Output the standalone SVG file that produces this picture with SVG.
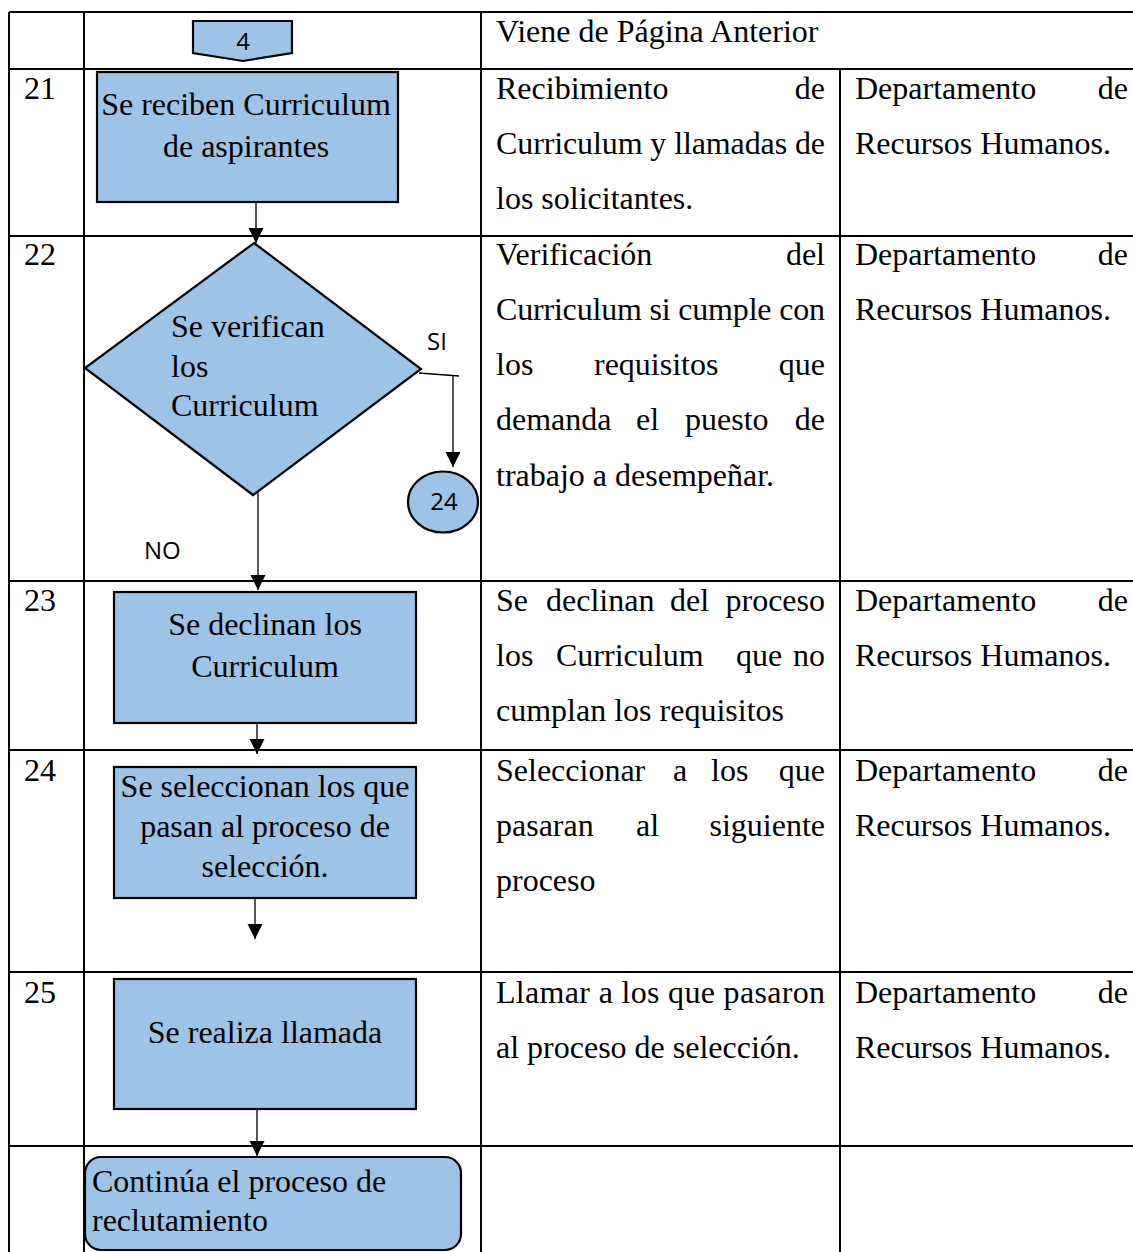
<svg xmlns="http://www.w3.org/2000/svg" width="1133" height="1252" viewBox="0 0 1133 1252">
  <defs>
    <marker id="arrow" markerUnits="userSpaceOnUse" markerWidth="16" markerHeight="16" refX="15" refY="7.5" orient="auto">
      <path d="M0,0 L15,7.5 L0,15 Z" fill="#000"/>
    </marker>
    <style>
      .grid { stroke: #000; stroke-width: 2; fill: none; }
      .shape { fill: #9DC3E6; stroke: #000; stroke-width: 2.2; }
      .conn { stroke: #000; stroke-width: 1.3; fill: none; }
      .serif { font-family: "Liberation Serif", "Times New Roman", serif; font-size: 32px; fill: #000; }
      .sans { font-family: "Open Sans", "Noto Sans", sans-serif; font-size: 24px; fill: #000; }
      .mid { text-anchor: middle; }
      .end { text-anchor: end; }
    </style>
  </defs>

  <rect width="1133" height="1252" fill="#fff"/>

  <!-- table grid -->
  <g id="table">
    <line class="grid" x1="9" y1="12" x2="1140" y2="12"/>
    <line class="grid" x1="9" y1="69" x2="1140" y2="69"/>
    <line class="grid" x1="9" y1="236" x2="1140" y2="236"/>
    <line class="grid" x1="9" y1="581" x2="1140" y2="581"/>
    <line class="grid" x1="9" y1="750" x2="1140" y2="750"/>
    <line class="grid" x1="9" y1="972" x2="1140" y2="972"/>
    <line class="grid" x1="9" y1="1146" x2="1140" y2="1146"/>
    <line class="grid" x1="9" y1="12" x2="9" y2="1260"/>
    <line class="grid" x1="84" y1="12" x2="84" y2="1260"/>
    <line class="grid" x1="481" y1="12" x2="481" y2="1260"/>
    <line class="grid" x1="840" y1="69" x2="840" y2="1260"/>
  </g>

  <!-- step numbers -->
  <g id="numbers" class="serif">
    <text x="24" y="99">21</text>
    <text x="24" y="265">22</text>
    <text x="24" y="611">23</text>
    <text x="24" y="781">24</text>
    <text x="24" y="1003">25</text>
  </g>

  <!-- descriptions -->
  <g id="descriptions" class="serif">
    <text x="496" y="42">Viene de Página Anterior</text>

    <text x="496" y="99">Recibimiento</text>
    <text x="825" y="99" class="end">de</text>
    <text x="496" y="154" textLength="329" lengthAdjust="spacing">Curriculum y llamadas de</text>
    <text x="496" y="209">los solicitantes.</text>

    <text x="496" y="265">Verificación</text>
    <text x="825" y="265" class="end">del</text>
    <text x="496" y="320" textLength="329" lengthAdjust="spacing">Curriculum si cumple con</text>
    <text x="496" y="375">los</text>
    <text x="594" y="375">requisitos</text>
    <text x="825" y="375" class="end">que</text>
    <text x="496" y="430">demanda</text>
    <text x="636" y="430">el</text>
    <text x="685" y="430">puesto</text>
    <text x="825" y="430" class="end">de</text>
    <text x="496" y="486">trabajo a desempeñar.</text>

    <text x="496" y="611">Se</text>
    <text x="546" y="611">declinan</text>
    <text x="670" y="611">del</text>
    <text x="825" y="611" class="end">proceso</text>
    <text x="496" y="666">los</text>
    <text x="556" y="666">Curriculum</text>
    <text x="736" y="666">que</text>
    <text x="825" y="666" class="end">no</text>
    <text x="496" y="721">cumplan los requisitos</text>

    <text x="496" y="781">Seleccionar</text>
    <text x="673" y="781">a</text>
    <text x="711" y="781">los</text>
    <text x="825" y="781" class="end">que</text>
    <text x="496" y="836">pasaran</text>
    <text x="636" y="836">al</text>
    <text x="825" y="836" class="end">siguiente</text>
    <text x="496" y="891">proceso</text>

    <text x="496" y="1003" textLength="329" lengthAdjust="spacing">Llamar a los que pasaron</text>
    <text x="496" y="1058">al proceso de selección.</text>
  </g>

  <!-- responsible -->
  <g id="responsible" class="serif">
    <text x="855" y="99">Departamento</text>
    <text x="1128" y="99" class="end">de</text>
    <text x="855" y="154">Recursos Humanos.</text>
    <text x="855" y="265">Departamento</text>
    <text x="1128" y="265" class="end">de</text>
    <text x="855" y="320">Recursos Humanos.</text>
    <text x="855" y="611">Departamento</text>
    <text x="1128" y="611" class="end">de</text>
    <text x="855" y="666">Recursos Humanos.</text>
    <text x="855" y="781">Departamento</text>
    <text x="1128" y="781" class="end">de</text>
    <text x="855" y="836">Recursos Humanos.</text>
    <text x="855" y="1003">Departamento</text>
    <text x="1128" y="1003" class="end">de</text>
    <text x="855" y="1058">Recursos Humanos.</text>
  </g>

  <!-- connectors -->
  <g id="connectors">
    <line class="conn" x1="256" y1="202" x2="256" y2="243" marker-end="url(#arrow)"/>
    <line class="conn" x1="258" y1="480" x2="258" y2="590" marker-end="url(#arrow)"/>
    <line class="conn" x1="419" y1="373" x2="459" y2="376"/>
    <line class="conn" x1="453" y1="376" x2="453" y2="467" marker-end="url(#arrow)"/>
    <line class="conn" x1="257" y1="723" x2="257" y2="754" marker-end="url(#arrow)"/>
    <line class="conn" x1="255" y1="898" x2="255" y2="939" marker-end="url(#arrow)"/>
    <line class="conn" x1="257" y1="1105" x2="257" y2="1156" marker-end="url(#arrow)"/>
    <text class="sans" x="427" y="350">SI</text>
    <text class="sans" x="144" y="559">NO</text>
  </g>

  <!-- off-page connector -->
  <g id="node-offpage">
    <path class="shape" d="M193,21 H292 V53 L243,61 L193,53 Z"/>
    <text class="sans mid" x="243" y="50">4</text>
  </g>

  <g id="node-21">
    <rect class="shape" x="97" y="72" width="301" height="130"/>
    <text class="serif mid" x="246" y="115">Se reciben Curriculum</text>
    <text class="serif mid" x="246" y="157">de aspirantes</text>
  </g>

  <g id="node-22">
    <path class="shape" d="M254,243 L421,369 L253,495 L85,368 Z"/>
    <text class="serif" x="171" y="337">Se verifican</text>
    <text class="serif" x="171" y="377">los</text>
    <text class="serif" x="171" y="416">Curriculum</text>
  </g>

  <g id="node-24-ref">
    <ellipse class="shape" cx="443" cy="502" rx="35" ry="30.5"/>
    <text class="sans mid" x="444" y="510">24</text>
  </g>

  <g id="node-23">
    <rect class="shape" x="114" y="592" width="302" height="131"/>
    <text class="serif mid" x="265" y="635">Se declinan los</text>
    <text class="serif mid" x="265" y="677">Curriculum</text>
  </g>

  <g id="node-24">
    <rect class="shape" x="114" y="767" width="302" height="131"/>
    <text class="serif mid" x="265" y="797">Se seleccionan los que</text>
    <text class="serif mid" x="265" y="837">pasan al proceso de</text>
    <text class="serif mid" x="265" y="877">selección.</text>
  </g>

  <g id="node-25">
    <rect class="shape" x="114" y="979" width="302" height="130"/>
    <text class="serif mid" x="265" y="1043">Se realiza llamada</text>
  </g>

  <g id="node-end">
    <rect class="shape" x="85" y="1157" width="376" height="93" rx="16" ry="16"/>
    <text class="serif" x="92" y="1192">Continúa el proceso de</text>
    <text class="serif" x="92" y="1231">reclutamiento</text>
  </g>
</svg>
